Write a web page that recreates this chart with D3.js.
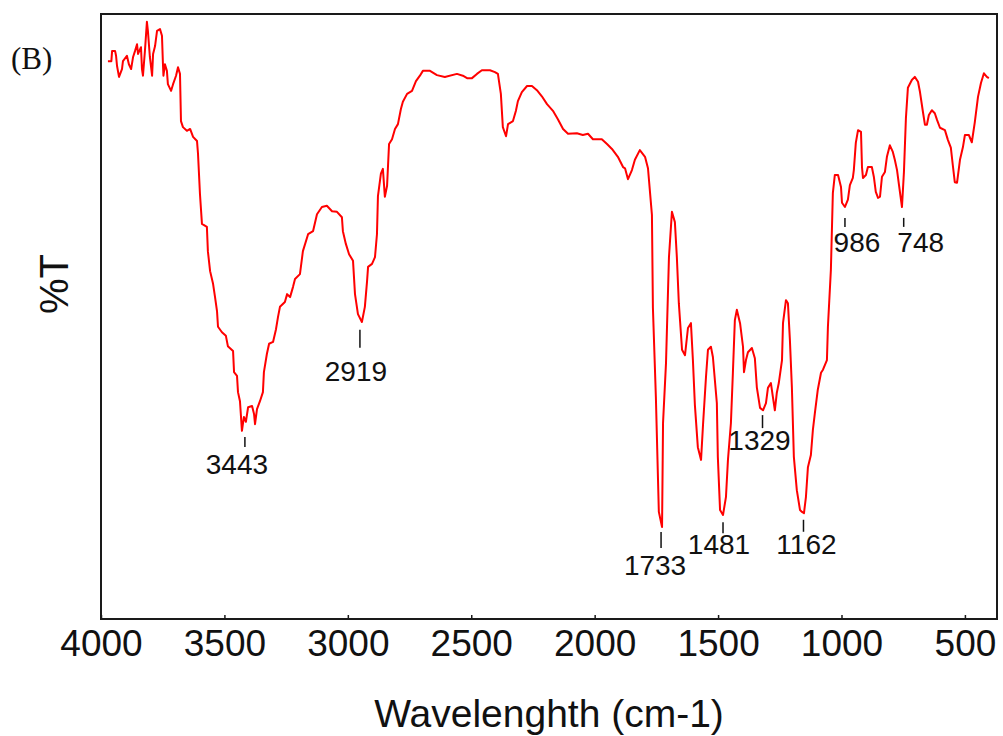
<!DOCTYPE html>
<html><head><meta charset="utf-8">
<script src="https://cdn.jsdelivr.net/npm/d3@7"></script>
<style>body{margin:0;background:#fff}</style>
</head><body><svg id="c" width="1003" height="736"></svg>
<script>
// ---------------- data ----------------
const wavenumbers = [3972,3958,3955,3943,3939,3935,3927,3915,3911,3895,3887,3878,3870,3862,3854,3850,3838,3834,3830,3822,3814,3810,3802,3793,3789,3781,3773,3761,3753,3749,3747,3741,3733,3729,3716,3708,3696,3688,3680,3676,3668,3652,3639,3627,3611,3607,3599,3591,3571,3567,3558,3546,3538,3530,3526,3510,3494,3486,3465,3461,3449,3445,3437,3429,3421,3413,3404,3388,3380,3376,3368,3356,3344,3340,3328,3319,3303,3291,3283,3275,3255,3246,3234,3222,3214,3194,3182,3161,3141,3125,3105,3085,3064,3044,3024,3020,3008,2995,2979,2971,2959,2943,2931,2922,2918,2902,2890,2882,2878,2866,2858,2850,2841,2833,2821,2809,2797,2785,2777,2760,2740,2724,2708,2696,2667,2639,2607,2558,2534,2517,2497,2477,2457,2424,2404,2392,2380,2372,2359,2351,2331,2319,2311,2295,2274,2254,2234,2214,2193,2169,2149,2128,2108,2072,2048,2027,2007,1971,1950,1930,1906,1885,1877,1865,1849,1837,1817,1796,1784,1768,1764,1752,1740,1727,1723,1711,1699,1687,1675,1667,1659,1646,1634,1622,1610,1602,1594,1582,1569,1561,1549,1541,1529,1521,1505,1501,1492,1480,1468,1460,1448,1440,1432,1424,1411,1399,1395,1387,1379,1363,1351,1343,1330,1318,1306,1298,1286,1278,1270,1262,1254,1241,1237,1225,1217,1209,1201,1193,1181,1168,1160,1152,1144,1136,1124,1116,1108,1096,1083,1075,1059,1055,1043,1035,1027,1014,1002,998,986,974,966,954,950,942,933,921,917,913,901,893,877,869,861,852,844,836,824,816,804,792,784,775,767,755,747,739,731,715,703,690,682,670,662,654,646,634,622,613,601,581,569,557,549,541,532,520,508,500,484,472,460,447,435,423,411,403];
const transmittance = [92.2,92.2,93.9,93.9,93.1,91.4,89.6,90.9,92.2,93.1,91.7,90.9,92.9,93.9,95.0,93.4,94.5,90.9,89.8,93.9,98.7,97.2,92.9,89.8,93.4,94.7,97.2,97.5,96.4,91.7,89.8,91.7,90.6,88.4,87.3,88.4,89.8,91.2,90.1,82.3,81.3,80.7,81.0,79.7,79.0,76.9,70.2,65.3,64.8,60.8,57.5,55.4,53.2,50.9,48.3,47.4,46.8,45.1,44.3,40.8,40.2,37.5,36.0,31.1,33.4,32.6,35.0,35.2,33.9,32.2,34.7,36.0,37.5,40.8,43.8,45.5,45.8,47.9,49.9,51.6,52.4,53.7,53.2,54.9,56.2,57.0,60.8,63.6,64.1,66.9,68.1,68.3,67.4,67.3,66.4,64.1,62.0,60.3,59.2,53.7,50.4,49.1,51.6,55.9,58.2,58.7,59.8,63.6,69.9,73.6,74.4,69.8,71.6,78.5,79.3,81.0,81.8,84.3,85.5,86.8,87.3,88.9,89.8,90.6,90.6,89.9,89.6,90.1,89.8,89.4,89.4,90.1,90.7,90.7,90.4,90.1,86.8,81.3,79.8,81.8,82.3,84.0,85.6,87.1,88.1,88.1,87.4,86.4,85.1,84.0,82.6,81.0,80.2,80.3,80.0,80.2,79.3,79.3,78.5,77.7,76.4,74.7,74.5,72.7,74.2,75.9,77.5,76.4,74.5,66.8,51.4,36.7,17.7,15.2,32.4,42.3,59.8,67.3,65.6,59.8,52.2,44.5,43.6,48.1,48.9,42.8,35.4,28.4,26.3,32.1,40.0,44.5,45.0,43.3,35.7,26.8,18.0,17.2,20.2,26.3,32.4,40.7,49.4,51.1,48.9,45.0,40.8,42.8,44.1,44.8,43.1,38.3,34.9,34.5,35.7,38.2,39.0,36.7,34.5,37.4,39.0,42.8,48.9,52.7,52.2,46.1,38.3,26.8,21.3,18.0,17.7,17.5,20.2,25.1,27.1,31.2,34.0,37.9,40.7,41.2,42.8,48.3,57.7,70.4,73.4,73.4,71.4,68.8,68.1,69.3,71.7,72.9,74.2,78.7,80.8,80.5,74.7,72.9,73.4,74.7,74.7,73.1,70.6,69.6,69.8,73.1,73.9,76.4,78.3,77.2,75.9,74.2,71.7,68.1,73.9,82.8,87.8,89.1,89.6,88.8,87.1,83.8,81.7,81.7,83.3,84.1,83.6,82.5,81.2,80.8,79.2,77.9,75.0,72.2,72.1,75.9,78.0,80.0,80.0,78.8,82.1,86.3,88.6,90.2,89.6,89.4];
const xTicks = [4000,3500,3000,2500,2000,1500,1000,500];
const peakLabels = ["3443","2919","1733","1481","1329","1162","986","748"];
const peakMarkWn = [3417,2951,1731,1480,1320,1154,986,748];
const peakMarkT  = [30.1,47.8,14.4,16.0,33.7,16.4,66.3,66.3];
const panelLabel = "(B)";
const xTitle = "Wavelenghth (cm-1)";
const yTitle = "%T";

// ---------------- layout / style ----------------
const plot = {left:101, top:14, right:997, bottom:619};
const peakStyle = [
  {len:10, dx:-8, dy:27}, {len:18, dx:-4, dy:33}, {len:16, dx:-6, dy:27}, {len:11, dx:-4, dy:21},
  {len:13, dx:-3, dy:22}, {len:12, dx:3, dy:22}, {len:9, dx:12, dy:25}, {len:9, dx:17, dy:25}
];
const sans = "'Liberation Sans', Arial, sans-serif";

const svg = d3.select("#c");
const x = d3.scaleLinear().domain([4000, 370]).range([plot.left, plot.right]);
const y = d3.scaleLinear().domain([0, 100]).range([plot.bottom, plot.top]);

const data = wavenumbers.map((w, i) => ({w, t: transmittance[i]}));

// spectrum
svg.append("path")
  .datum(data)
  .attr("fill", "none")
  .attr("stroke", "#ff0000")
  .attr("stroke-width", 2)
  .attr("stroke-linejoin", "round")
  .attr("d", d3.line().x(d => x(d.w)).y(d => y(d.t)));

// frame
svg.append("rect")
  .attr("x", plot.left).attr("y", plot.top)
  .attr("width", plot.right - plot.left).attr("height", plot.bottom - plot.top)
  .attr("fill", "none").attr("stroke", "#1a1a1a").attr("stroke-width", 2);

// x axis
const ax = svg.append("g")
  .attr("transform", `translate(0,${plot.bottom})`)
  .call(d3.axisBottom(x).tickValues(xTicks).tickSize(-4).tickPadding(11).tickFormat(d3.format("d")));
ax.select(".domain").remove();
ax.selectAll(".tick line").attr("stroke", "#1a1a1a").attr("stroke-width", 1.5);
ax.selectAll(".tick text").attr("font-family", sans).attr("font-size", 37).attr("fill", "#111");

// axis titles
svg.append("text")
  .attr("x", (plot.left + plot.right) / 2).attr("y", 727)
  .attr("text-anchor", "middle")
  .attr("font-family", sans).attr("font-size", 39).attr("fill", "#111")
  .text(xTitle);
svg.append("text")
  .attr("transform", "translate(68,284) rotate(-90)")
  .attr("text-anchor", "middle")
  .attr("font-family", sans).attr("font-size", 40).attr("fill", "#111")
  .text(yTitle);

// panel label
svg.append("text")
  .attr("x", 11).attr("y", 69)
  .attr("font-family", "'Liberation Serif', 'Times New Roman', serif")
  .attr("font-size", 31).attr("fill", "#111")
  .text(panelLabel);

// peak annotations
const ann = svg.append("g");
peakLabels.forEach((lab, i) => {
  const px = x(peakMarkWn[i]), py = y(peakMarkT[i]);
  const s = peakStyle[i];
  ann.append("line")
    .attr("x1", px).attr("x2", px).attr("y1", py).attr("y2", py + s.len)
    .attr("stroke", "#111").attr("stroke-width", 1.5);
  ann.append("text")
    .attr("x", px + s.dx).attr("y", py + s.len + s.dy)
    .attr("text-anchor", "middle")
    .attr("font-family", sans).attr("font-size", 28).attr("fill", "#111")
    .text(lab);
});
</script>
</body></html>
